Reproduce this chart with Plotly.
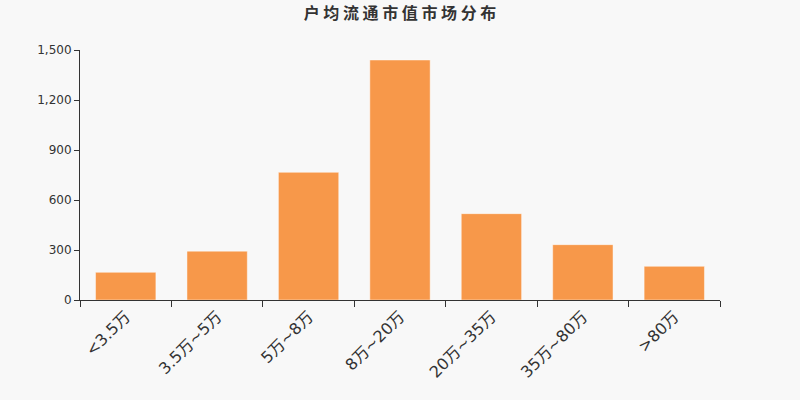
import plotly.graph_objects as go

categories = ["<3.5万", "3.5万~5万", "5万~8万", "8万~20万", "20万~35万", "35万~80万", ">80万"]
values = [166, 293, 766, 1440, 518, 332, 202]
y_ticks = [0, 300, 600, 900, 1200, 1500]

fig = go.Figure(go.Bar(
    x=categories, y=values,
    marker=dict(color="#F7984A", line=dict(color="rgba(255,255,255,0.45)", width=1)),
))

fig.update_layout(
    width=800, height=400,
    paper_bgcolor="#F8F8F8", plot_bgcolor="#F8F8F8",
    margin=dict(l=80, r=80, t=50, b=100),
    bargap=0.34,
    showlegend=False,
    title=dict(text="<b>户 均 流 通 市 值 市 场 分 布</b>", x=0.5, xanchor="center", y=0.967, yanchor="middle",
               font=dict(family="Noto Sans CJK SC", size=16, color="#333333")),
    font=dict(family="DejaVu Sans", color="#333333"),
)
fig.update_xaxes(
    type="category", tickson="boundaries", ticks="outside", ticklen=6, tickcolor="#333333",
    showline=True, linecolor="#333333", linewidth=1, showgrid=False,
    tickangle=-45, tickfont=dict(size=16, color="#333333", family="DejaVu Sans, Noto Sans CJK SC"),
)
fig.update_yaxes(
    range=[0, 1500], tickvals=y_ticks, tickformat=",", ticks="outside", ticklen=5, tickcolor="#333333",
    showline=True, linecolor="#333333", linewidth=1, showgrid=False, zeroline=False,
    tickfont=dict(size=12, color="#333333"),
)

fig.write_html("out.html", config={"displayModeBar": False},
               post_script="document.body.style.margin='0';document.body.style.background='#F8F8F8';")
